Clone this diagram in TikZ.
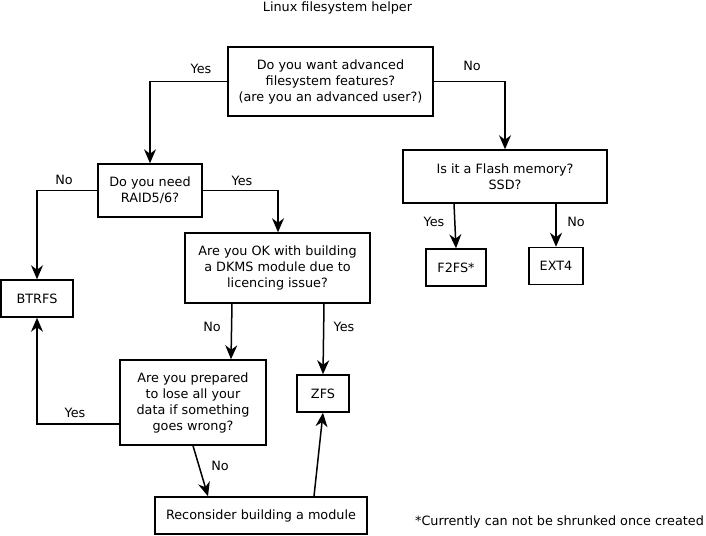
\documentclass[tikz,border=0pt]{standalone}
\usepackage{fontspec}
\setmainfont{DejaVu Sans}
\usetikzlibrary{arrows.meta,calc}
\tikzset{question/.style={draw, line width=1.5pt, align=center, font=\fontsize{12.8}{16}\selectfont, inner sep=2pt},
         answer/.style = {draw, line width=1.5pt, align=center, font=\fontsize{12.8}{16}\selectfont, minimum height=37pt},
         choice/.style = {font=\fontsize{12.8}{16}\selectfont, inner sep=0pt},
         line/.style = {line width=1.5pt, -{Stealth[length=14pt,width=12pt,inset=4.5pt]}}}

\begin{document}
\begin{tikzpicture}[x=1pt,y=-1pt]
\useasboundingbox (0,0) rectangle (706,535);
\node (title) [choice] at (337.5,8) {Linux filesystem helper};

% Questions
\node (advanced) [question,minimum width=205pt,minimum height=69pt] at (330.5,81.5)
  {Do you want advanced\\filesystem features?\\(are you an advanced user?)};
\node (flash) [question,minimum width=204pt,minimum height=53pt] at (505,176.5)
  {Is it a Flash memory?\\SSD?};
\node (raid) [question,minimum width=104pt,minimum height=53pt] at (150,190.5)
  {Do you need\\RAID5/6?};
\node (dkms) [question,minimum width=185pt,minimum height=70pt] at (277.5,268)
  {Are you OK with building\\a DKMS module due to\\licencing issue?};
\node (lose) [question,minimum width=146pt,minimum height=85pt] at (193,402.5)
  {Are you prepared\\to lose all your\\data if something\\goes wrong?};

% Answers
\node (btrfs) [answer,minimum width=72pt] at (37,298.5) {BTRFS};
\node (f2fs) [answer,minimum width=60pt] at (456,267.5) {F2FS*};
\node (ext4) [answer,minimum width=54pt] at (556,266) {EXT4};
\node (zfs) [answer,minimum width=52pt] at (323,393.5) {ZFS};
\node (recon) [answer,minimum width=212pt] at (261,515.5) {Reconsider building a module};

% Draw connections between nodes
\draw [line] (advanced.west) -| (raid.north);
\draw [line] (advanced.east) -| (flash.north);
\draw [line] (raid.west) -| (btrfs.north);
\draw [line] (raid.east) -| ([xshift=0.5pt]dkms.north);
\draw [line] ([xshift=-51pt]flash.south) -- (f2fs.north);
\draw [line] ([xshift=51pt]flash.south) -- (ext4.north);
\draw [line] ([xshift=-45.5pt]dkms.south) -- ([xshift=38pt]lose.north);
\draw [line] ([xshift=46.5pt]dkms.south) -- (zfs.north);
\draw [line] ([yshift=-21.5pt]lose.west) -| (btrfs.south);
\draw [line] (lose.south) -- ([xshift=-53pt]recon.north);
\draw [line] ([xshift=53pt]recon.north) -- (zfs.south);

\node (l1) [choice] at (201,69) {Yes};
\node (l2) [choice] at (472,66) {No};
\node (l3) [choice] at (64,180) {No};
\node (l4) [choice] at (242,181) {Yes};
\node (l5) [choice] at (434,222) {Yes};
\node (l6) [choice] at (576,222) {No};
\node (l7) [choice] at (212,327) {No};
\node (l8) [choice] at (344,327) {Yes};
\node (l9) [choice] at (75,413) {Yes};
\node (l10) [choice] at (220,466) {No};

\node (note) [choice] at (559.5,522) {*Currently can not be shrunked once created};
\end{tikzpicture}
\end{document}
